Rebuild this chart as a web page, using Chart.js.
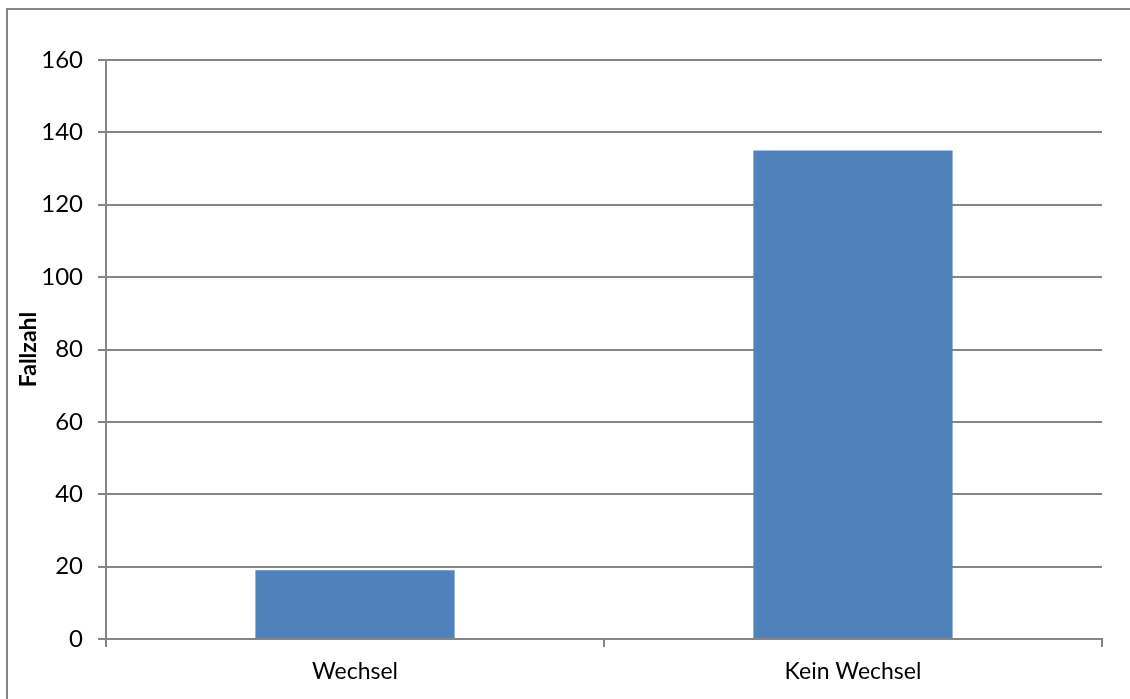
<!DOCTYPE html>
<html>
<head>
<meta charset="utf-8">
<script src="https://cdn.jsdelivr.net/npm/chart.js@4/dist/chart.umd.min.js"></script>
<style>
  html, body { margin: 0; padding: 0; background: #fff; }
  #wrap { width: 1130px; height: 699px; }
</style>
</head>
<body>
<div id="wrap"><canvas id="barChart" width="1130" height="699"></canvas></div>
<script>
const categories = ['Wechsel', 'Kein Wechsel'];
const fallzahl = [19, 135];
const yTitle = 'Fallzahl';

const gridGray = '#868686';

// outer frame like the Excel chart border
const framePlugin = {
    id: 'frame',
    beforeDraw(chart) {
        const c = chart.ctx;
        c.save();
        c.strokeStyle = gridGray;
        c.lineWidth = 2;
        c.strokeRect(7, 9, 1140, 710);
        c.restore();
    }
};

const ctx = document.getElementById('barChart').getContext('2d');
new Chart(ctx, {
    type: 'bar',
    data: {
        labels: categories,
        datasets: [{
            label: yTitle,
            data: fallzahl,
            backgroundColor: '#4f81bd',
            borderWidth: 0,
            barPercentage: 0.4,
            categoryPercentage: 1
        }]
    },
    options: {
        responsive: false,
        animation: false,
        layout: { padding: { top: 60, right: 28, left: 0, bottom: 0 } },
        plugins: {
            legend: { display: false },
            tooltip: { enabled: false }
        },
        scales: {
            x: {
                afterFit: s => { s.height = 60; },
                grid: {
                    offset: true,
                    drawOnChartArea: false,
                    color: gridGray,
                    lineWidth: 2,
                    tickLength: 8
                },
                border: { color: gridGray, width: 2 },
                ticks: {
                    color: '#000',
                    font: { family: 'Lato', size: 23 },
                    padding: 11
                }
            },
            y: {
                min: 0,
                max: 160,
                afterFit: s => { s.width = 106; },
                ticks: {
                    stepSize: 20,
                    color: '#000',
                    font: { family: 'Lato', size: 24 },
                    padding: 15
                },
                grid: {
                    color: gridGray,
                    lineWidth: 2,
                    tickLength: 8
                },
                border: { color: gridGray, width: 2 },
                title: {
                    display: true,
                    text: yTitle,
                    color: '#000',
                    font: { family: 'Lato', size: 23, weight: 'bold' },
                    padding: { top: 15, bottom: 0 }
                }
            }
        }
    },
    plugins: [framePlugin]
});
</script>
</body>
</html>
